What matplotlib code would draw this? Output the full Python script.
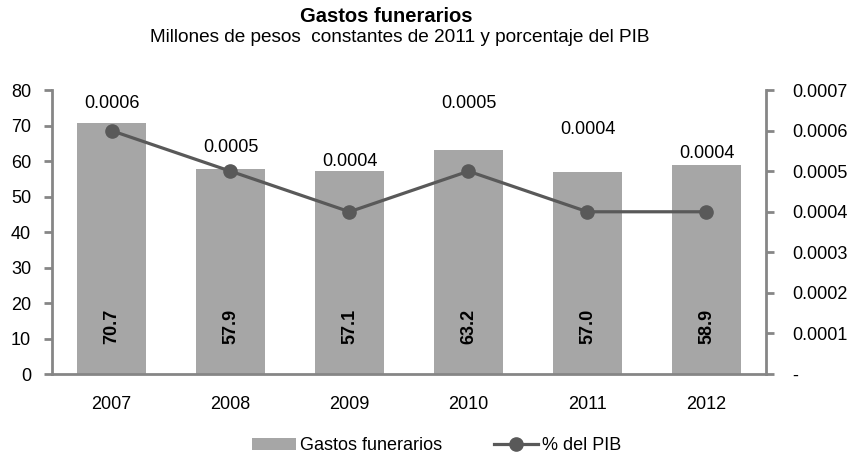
import matplotlib

matplotlib.use("Agg")

import matplotlib.pyplot as plt
from matplotlib.lines import Line2D
from matplotlib.patches import Patch
from matplotlib.ticker import FuncFormatter

YEARS = ["2007", "2008", "2009", "2010", "2011", "2012"]
GASTOS = [70.7, 57.9, 57.1, 63.2, 57.0, 58.9]
PIB_SHARE = [0.0006, 0.0005, 0.0004, 0.0005, 0.0004, 0.0004]
LEFT_TICKS = [0, 10, 20, 30, 40, 50, 60, 70, 80]
RIGHT_TICKS = [0, 0.0001, 0.0002, 0.0003, 0.0004, 0.0005, 0.0006, 0.0007]

BAR = "#a6a6a6"
LINE = "#595959"
SPINE = "#868686"
INK = "#000000"
SIZE = 13
# label lift above each line point, pixels (hand placed in the source chart)
LABEL_LIFT = [27, 24, 50, 68, 82, 58]

plt.rcParams["font.family"] = ["Liberation Sans", "DejaVu Sans"]

figure = plt.figure(figsize=(8.54, 4.55), dpi=100, facecolor="white")
axis = figure.add_axes([0.0609, 0.178, 0.836, 0.624])
twin = axis.twinx()

positions = range(len(YEARS))
axis.bar(positions, GASTOS, width=0.58, color=BAR, zorder=2)
for x, value in zip(positions, GASTOS):
    axis.text(x, 13.5, f"{value:.1f}", rotation=90, ha="center", va="center",
              fontsize=SIZE, fontweight="bold", color=INK, zorder=3)

twin.plot(positions, PIB_SHARE, color=LINE, linewidth=2.3, marker="o",
          markersize=9.5, zorder=4)
for x, value, lift in zip(positions, PIB_SHARE, LABEL_LIFT):
    twin.annotate(f"{value:.4f}", (x, value), textcoords="offset pixels",
                  xytext=(0, lift), ha="center", va="center", fontsize=SIZE,
                  color=INK)

axis.set_xlim(-0.5, len(YEARS) - 0.5)
axis.set_ylim(0, 80)
twin.set_ylim(0, 0.0007)
axis.set_xticks(list(positions))
axis.set_xticklabels(YEARS)
axis.set_yticks(LEFT_TICKS)
twin.set_yticks(RIGHT_TICKS)
twin.yaxis.set_major_formatter(
    FuncFormatter(lambda v, _: "-" if v == 0 else f"{v:.4f}"))

for ax in (axis, twin):
    ax.spines["top"].set_visible(False)
    for side in ("left", "right", "bottom"):
        ax.spines[side].set_color(SPINE)
        ax.spines[side].set_linewidth(2)
    ax.tick_params(axis="y", colors=SPINE, labelcolor=INK, labelsize=SIZE,
                   width=2, length=6)
axis.spines["right"].set_visible(False)
twin.spines["left"].set_visible(False)
twin.spines["bottom"].set_visible(False)
axis.tick_params(axis="x", length=0, pad=16, labelsize=SIZE, labelcolor=INK)
axis.tick_params(axis="y", pad=9)
twin.tick_params(axis="y", pad=13)

figure.text(0.452, 0.963, "Gastos funerarios", ha="center", va="center",
            fontsize=14.5, fontweight="bold", color=INK)
figure.text(0.468, 0.917,
            "Millones de pesos  constantes de 2011 y porcentaje del PIB",
            ha="center", va="center", fontsize=13.7, color=INK)

handles = [
    Patch(facecolor=BAR, edgecolor="none", label="Gastos funerarios"),
    Line2D([0], [0], color=LINE, linewidth=2.3, marker="o", markersize=9.5,
           label="% del PIB"),
]
figure.legend(handles=handles, loc="center", bbox_to_anchor=(0.511, 0.02),
              ncol=2, frameon=False, fontsize=SIZE, handlelength=2.45,
              handletextpad=0.2, columnspacing=2.9, handleheight=0.7,
              borderpad=0)

figure.savefig("out.png", dpi=100)
